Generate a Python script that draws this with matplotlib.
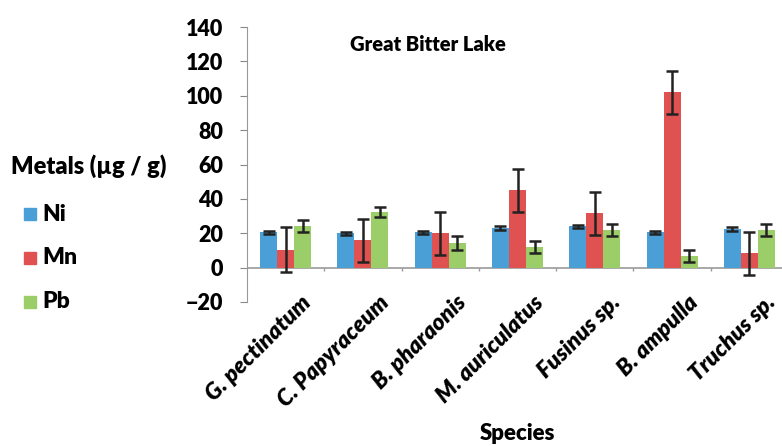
import matplotlib.pyplot as plt
import matplotlib.transforms as mtransforms
import numpy as np

# values
species = ['G. pectinatum', 'C. Papyraceum', 'B. pharaonis', 'M. auriculatus',
           'Fusinus sp.', 'B. ampulla', 'Truchus sp.']
metals = ['Ni', 'Mn', 'Pb']
ni = [20.5, 20, 20.5, 23, 24, 20.5, 22.5]
ni_err = [1, 1, 1, 1, 1, 1, 1]
mn = [10.5, 16, 20, 45, 31.5, 102, 8.5]
mn_err = [13, 12.5, 12.5, 12.5, 12.5, 12.5, 12.5]
pb = [24, 32.5, 14.5, 12, 22, 6.5, 22]
pb_err = [3.5, 3, 4, 3.5, 3.5, 3.5, 3.5]

colors = ['#4a9fd6', '#e05252', '#9bcd68']
font = 'Lato'
weight = 'heavy'

fig = plt.figure(figsize=(7.82, 4.46), dpi=100)
ax = fig.add_axes([247 / 782, 144 / 446, 541 / 782, 275 / 446])

x = np.arange(len(species))
w = 0.22
series = [(ni, ni_err), (mn, mn_err), (pb, pb_err)]
for k, (vals, errs) in enumerate(series):
    ax.bar(x + (k - 1) * w, vals, w, yerr=errs, color=colors[k],
           edgecolor='none', capsize=4,
           error_kw=dict(ecolor='#222222', elinewidth=1.8, capthick=1.8))

ax.set_xlim(-0.5, len(species) - 0.5)
ax.set_ylim(-20, 140)
ax.set_yticks(np.arange(-20, 141, 20))
ax.tick_params(axis='y', length=5, color='#888888', labelsize=15.5, pad=12)
for t in ax.get_yticklabels():
    t.set_fontweight(weight)
    t.set_fontfamily(font)

ax.axhline(0, color='#999999', lw=1.2, zorder=0.5)
ax.vlines(x[:-1] + 0.5, -1.8, 0, color='#999999', lw=1)
ax.set_xticks(x)
ax.set_xticklabels(species, rotation=45, ha='right', va='top', rotation_mode='anchor',
                   fontsize=16.5, fontweight=weight, fontstyle='italic', fontfamily=font)
ax.tick_params(axis='x', length=0, pad=0)
shift = mtransforms.ScaledTranslation(0.15, 0.10, fig.dpi_scale_trans)
for t in ax.get_xticklabels():
    t.set_transform(t.get_transform() + shift)

for s in ['top', 'right', 'bottom']:
    ax.spines[s].set_visible(False)
ax.spines['left'].set_color('#999999')

ax.text(0.335, 0.935, 'Great Bitter Lake', transform=ax.transAxes, ha='center',
        va='center', fontsize=14.5, fontweight=weight, fontfamily=font)
fig.text(517 / 782, 1 - 433 / 446, 'Species', ha='center', va='center',
         fontsize=16, fontweight=weight, fontfamily=font)

# legend drawn at the left like the original
fig.text(11 / 782, 1 - 166 / 446, 'Metals (\u00b5g / g)', ha='left', va='center',
         fontsize=17, fontweight=weight, fontfamily=font)
for k, name in enumerate(metals):
    yy = 1 - (214 + 44 * k) / 446
    fig.patches.append(plt.Rectangle((24 / 782, yy - 6 / 446), 12 / 782, 12 / 446,
                                     transform=fig.transFigure, color=colors[k]))
    fig.text(42 / 782, yy, name, ha='left', va='center', fontsize=16.5,
             fontweight=weight, fontfamily=font)

fig.savefig('out.png', dpi=100)
